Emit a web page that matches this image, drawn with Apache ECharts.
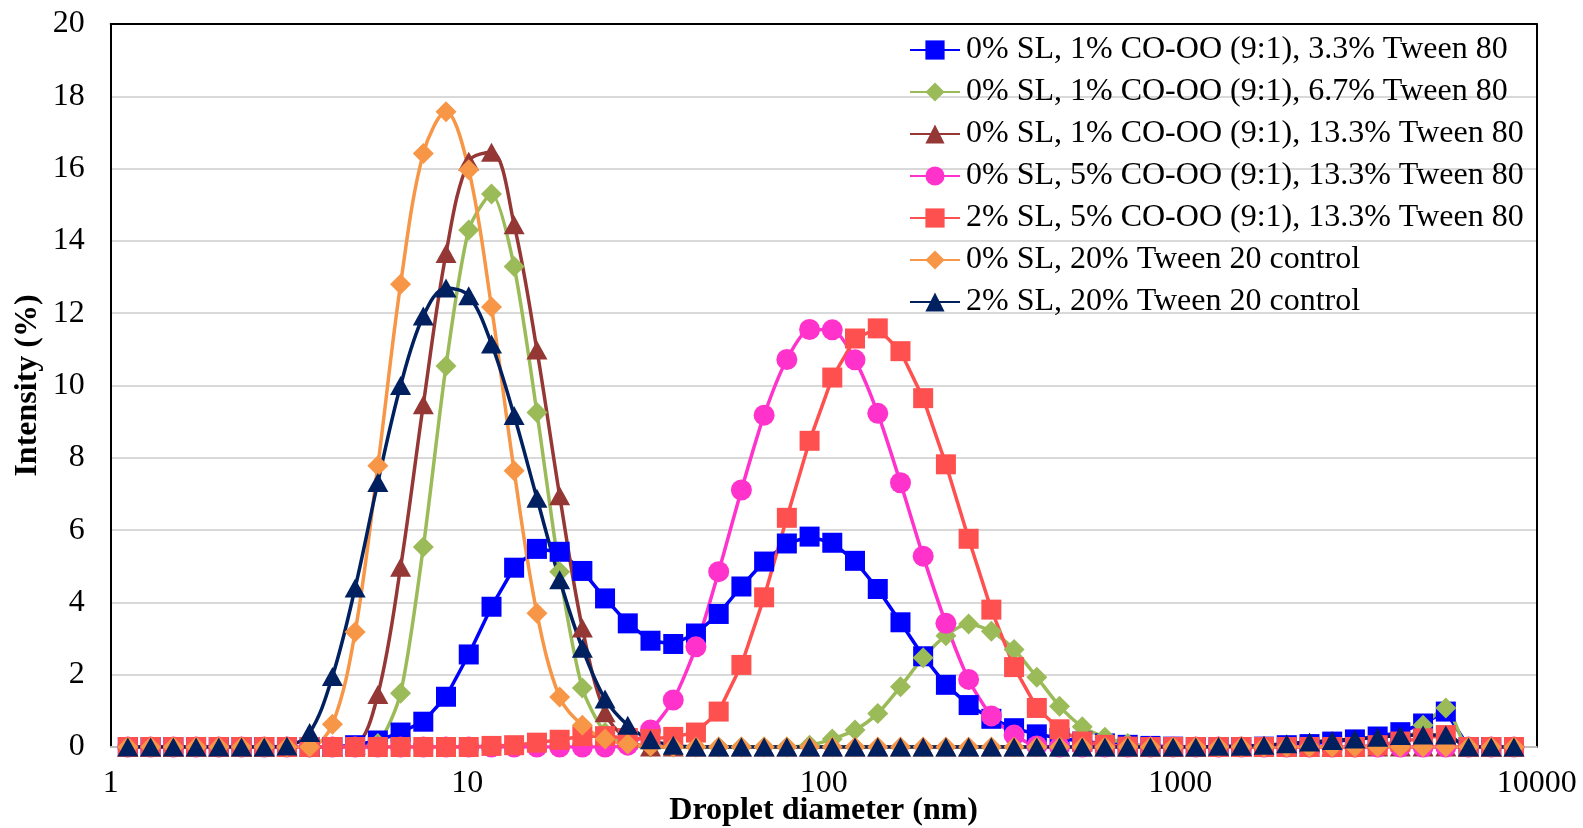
<!DOCTYPE html>
<html>
<head>
<meta charset="utf-8">
<script src="https://cdn.jsdelivr.net/npm/echarts@6/dist/echarts.min.js"></script>
<style>
html,body{margin:0;padding:0;background:#fff;}
#chart{width:1583px;height:828px;}
</style>
</head>
<body>
<div id="chart"></div>
<script>
// Droplet diameter classes (nm)
const sizes = [1.117,1.294,1.499,1.736,2.010,2.328,2.696,3.122,3.615,4.187,
  4.849,5.615,6.503,7.531,8.721,10.10,11.70,13.54,15.69,18.17,
  21.04,24.36,28.21,32.67,37.84,43.82,50.75,58.77,68.06,78.82,
  91.28,105.7,122.4,141.8,164.2,190.1,220.2,255.0,295.3,342.0,
  396.1,458.7,531.2,615.1,712.4,825.0,955.4,1106,1281,1484,
  1718,1990,2305,2669,3091,3580,4145,4801,5560,6439,
  7456,8635];

const seriesNames = [
  "0% SL, 1% CO-OO (9:1), 3.3% Tween 80",
  "0% SL, 1% CO-OO (9:1), 6.7% Tween 80",
  "0% SL, 1% CO-OO (9:1), 13.3% Tween 80",
  "0% SL, 5% CO-OO (9:1), 13.3% Tween 80",
  "2% SL, 5% CO-OO (9:1), 13.3% Tween 80",
  "0% SL, 20% Tween 20 control",
  "2% SL, 20% Tween 20 control"
];

const blueT33 = [0,0,0,0,0,0,0,0,0,0,
  0.05,0.18,0.4,0.7,1.39,2.56,3.88,4.96,5.48,5.4,
  4.87,4.11,3.42,2.94,2.85,3.14,3.68,4.44,5.13,5.63,
  5.82,5.65,5.15,4.37,3.45,2.51,1.72,1.16,0.78,0.52,
  0.35,0.25,0.15,0.1,0.06,0.03,0.01,0,0,0,
  0.01,0.05,0.08,0.15,0.21,0.29,0.41,0.65,0.98,0,
  0,0];

const greenT67 = [0,0,0,0,0,0,0,0,0,0,
  0,0.1,1.49,5.53,10.54,14.3,15.3,13.29,9.25,4.85,
  1.63,0.4,0.05,0,0,0,0,0,0,0,
  0.05,0.22,0.47,0.93,1.67,2.47,3.08,3.4,3.2,2.7,
  1.93,1.13,0.56,0.27,0.1,0,0,0,0,0,
  0,0,0,0,0,0,0.1,0.6,1.08,0,
  0,0];

const brownT133 = [0,0,0,0,0,0,0,0,0,0,
  0.05,1.45,4.97,9.47,13.65,16.2,16.45,14.45,10.98,6.95,
  3.29,0.95,0.2,0,0,0,0,0,0,0,
  0,0,0,0,0,0,0,0,0,0,
  0,0,0,0,0,0,0,0,0,0,
  0,0,0,0,0,0,0,0,0,0,
  0,0];

const pinkP5 = [0,0,0,0,0,0,0,0,0,0,
  0,0,0,0,0,0,0,0,0,0,
  0,0,0.05,0.47,1.3,2.77,4.85,7.11,9.18,10.72,
  11.55,11.54,10.71,9.23,7.31,5.28,3.42,1.87,0.86,0.33,
  0.03,0,0,0,0,0,0,0,0,0,
  0,0,0,0,0,0,0,0,0,0,
  0,0];

const redS2 = [0,0,0,0,0,0,0,0,0,0,
  0,0,0,0,0,0,0.03,0.05,0.12,0.2,
  0.3,0.3,0.25,0.22,0.28,0.4,0.98,2.27,4.14,6.34,
  8.47,10.22,11.3,11.58,10.95,9.65,7.82,5.76,3.8,2.21,
  1.08,0.49,0.15,0.06,0.01,0,0,0,0,0,
  0,0,0,0,0,0.05,0.15,0.24,0.33,0,
  0,0];

const orangeO20 = [0,0,0,0,0,0,0,0,0,0.63,
  3.18,7.78,12.8,16.42,17.57,15.97,12.17,7.64,3.7,1.38,
  0.6,0.22,0.08,0.02,0,0,0,0,0,0,
  0,0,0,0,0,0,0,0,0,0,
  0,0,0,0,0,0,0,0,0,0,
  0,0,0,0,0,0,0,0,0,0,
  0,0];

const navyN2 = [0,0,0,0,0,0,0,0.03,0.4,1.95,
  4.4,7.32,10.0,11.92,12.7,12.48,11.15,9.17,6.88,4.63,
  2.73,1.33,0.6,0.2,0.05,0,0,0,0,0,
  0,0,0,0,0,0,0,0,0,0,
  0,0,0,0,0,0,0,0,0.02,0.02,
  0.05,0.09,0.14,0.18,0.22,0.27,0.32,0.33,0.33,0,
  0,0];

const xTicks = [1, 10, 100, 1000, 10000];
const yTicks = [0,2,4,6,8,10,12,14,16,18,20];

const colors = ['#0000FF','#9BBB59','#953735','#FF33CC','#FF5050','#F79646','#002060'];
const symbols = ['rect','diamond','triangle','circle','rect','diamond','triangle'];
const symSizes = [20, 21, [21,19], 21, 20, 21, [21,19]];
const smooths = [false, 0.25, 0.35, 0.25, false, 0.35, 0.35];
const allValues = [blueT33, greenT67, brownT133, pinkP5, redS2, orangeO20, navyN2];

const FONT = "'Liberation Serif', 'Times New Roman', serif";

const series = allValues.map((vals, k) => ({
  name: seriesNames[k],
  type: 'line',
  data: sizes.map((s, i) => [s, vals[i]]),
  symbol: symbols[k],
  symbolSize: symSizes[k],
  smooth: smooths[k],
  lineStyle: { color: colors[k], width: 3.5 },
  itemStyle: { color: colors[k] },
  emphasis: { disabled: true },
  xAxisIndex: 0,
  yAxisIndex: 0
}));

const chart = echarts.init(document.getElementById('chart'), null, { renderer: 'canvas' });
chart.setOption({
  animation: false,
  backgroundColor: '#ffffff',
  grid: { left: 110.7, right: 46.3, top: 24, bottom: 81, containLabel: false, outerBoundsMode: 'none' },
  legend: {
    data: seriesNames,
    orient: 'vertical',
    left: 904,
    top: 29,
    itemWidth: 50,
    itemHeight: 24,
    itemGap: 10,
    textStyle: { fontFamily: FONT, fontSize: 32, color: '#000', lineHeight: 32, padding: [0,0,0,1] },
    selectedMode: false
  },
  xAxis: [{
    type: 'log',
    logBase: 10,
    min: xTicks[0],
    max: xTicks[xTicks.length - 1],
    name: 'Droplet diameter (nm)',
    nameLocation: 'middle',
    nameGap: 48,
    nameMoveOverlap: false,
    nameTextStyle: { fontFamily: FONT, fontSize: 32, fontWeight: 'bold', color: '#000' },
    axisLine: { show: true, lineStyle: { color: '#bfbfbf', width: 2 } },
    axisTick: { show: false },
    axisLabel: { fontFamily: FONT, fontSize: 32, color: '#000', margin: 21,
      formatter: v => String(Math.round(v)) },
    splitLine: { show: false }
  }, {
    type: 'log',
    logBase: 10,
    min: xTicks[0],
    max: xTicks[xTicks.length - 1],
    position: 'top',
    axisLine: { show: true, onZero: false, lineStyle: { color: '#000', width: 2 } },
    axisTick: { show: false },
    axisLabel: { show: false },
    splitLine: { show: false }
  }],
  yAxis: [{
    type: 'value',
    min: yTicks[0],
    max: yTicks[yTicks.length - 1],
    interval: 2,
    name: 'Intensity (%)',
    nameLocation: 'middle',
    nameGap: 67,
    nameMoveOverlap: false,
    nameTextStyle: { fontFamily: FONT, fontSize: 32, fontWeight: 'bold', color: '#000' },
    axisLine: { show: true, lineStyle: { color: '#000', width: 2 } },
    axisTick: { show: false },
    axisLabel: { fontFamily: FONT, fontSize: 32, color: '#000', margin: 26 },
    splitLine: { show: true, lineStyle: { color: '#d9d9d9', width: 2 } }
  }, {
    type: 'value',
    min: yTicks[0],
    max: yTicks[yTicks.length - 1],
    interval: 2,
    position: 'right',
    axisLine: { show: true, onZero: false, lineStyle: { color: '#000', width: 2 } },
    axisTick: { show: false },
    axisLabel: { show: false },
    splitLine: { show: false }
  }],
  series: series
});
</script>
</body>
</html>
